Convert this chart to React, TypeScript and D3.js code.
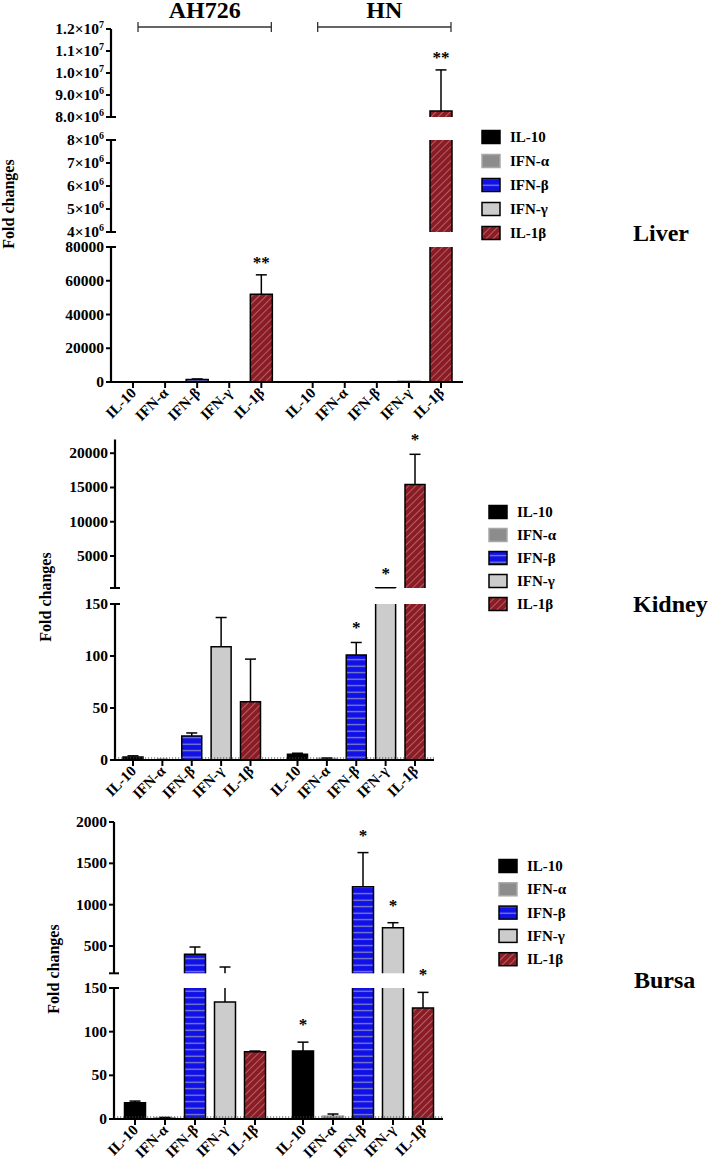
import React from "react";
import * as d3 from "d3";

// ---------- data ----------
const cytokines = ["IL-10", "IFN-α", "IFN-β", "IFN-γ", "IL-1β"];
const strains = ["AH726", "HN"];

const liverAH726 = [2, 1, 1500, 5, 52000];
const liverAH726Err = [0, 0, 300, 0, 11500];
const liverHN = [3, 2, 20, 300, 8270000];
const liverHNErr = [0, 0, 0, 0, 1870000];
const liverAH726Sig = ["", "", "", "", "**"];
const liverHNSig = ["", "", "", "", "**"];

const kidneyAH726 = [2.8, 0.3, 23, 109, 56];
const kidneyAH726Err = [1.2, 0.2, 3, 28, 41];
const kidneyHN = [5.5, 1.5, 101, 355, 15440];
const kidneyHNErr = [1, 0.4, 12, 0, 4400];
const kidneyAH726Sig = ["", "", "", "", ""];
const kidneyHNSig = ["", "", "*", "*", "*"];

const bursaAH726 = [18.5, 1.5, 400, 134, 77];
const bursaAH726Err = [2, 0.3, 88, 112, 0.8];
const bursaHN = [78, 3.4, 1218, 722, 127];
const bursaHNErr = [10, 2.3, 412, 60, 18];
const bursaAH726Sig = ["", "", "", "", ""];
const bursaHNSig = ["*", "", "*", "*", "*"];

const liverLowTicks = [0, 20000, 40000, 60000, 80000];
const liverMidTicks = [4e6, 5e6, 6e6, 7e6, 8e6];
const liverTopTicks = [8e6, 9e6, 1e7, 1.1e7, 1.2e7];
const kidneyLowTicks = [0, 50, 100, 150];
const kidneyTopTicks = [5000, 10000, 15000, 20000];
const bursaLowTicks = [0, 50, 100, 150];
const bursaTopTicks = [500, 1000, 1500, 2000];

const yLabel = "Fold changes";

// ---------- styles ----------
const FONT = "'Liberation Serif', 'Times New Roman', 'DejaVu Serif', serif";
const fills = ["#000000", "#8c8c8c", "url(#blueStripe)", "#cccccc", "url(#redHatch)"];
const strokes = ["#000000", "#a8a8a8", "#000000", "#000000", "#000000"];

type Fmt = (v: number) => React.ReactNode;
const plain: Fmt = (v) => String(v);
const sci = (digits: number): Fmt => (v) => {
  const e = Math.floor(Math.log10(v) + 1e-9);
  const m = v / Math.pow(10, e);
  return (
    <>
      <tspan>{m.toFixed(digits)}×10</tspan>
      <tspan dy={-6} fontSize={10}>{e}</tspan>
    </>
  );
};

type SegDef = { domain: [number, number]; range: [number, number]; ticks: number[]; fmt: Fmt };

type PanelDef = {
  title: string;
  ah: number[]; ahErr: number[]; hn: number[]; hnErr: number[];
  ahSig: string[]; hnSig: string[];
  segs: SegDef[];
  axisX: number; xEnd: number; xFirst: number; xLast: number; barW: number;
  legendX: number; legendY: number; legendStep: number;
  titleX: number; titleY: number;
  ylabX: number; ylabY: number;
  dotted: boolean; brackets: boolean; starGap: number;
};

const panels: PanelDef[] = [
  {
    title: "Liver",
    ah: liverAH726, ahErr: liverAH726Err, hn: liverHN, hnErr: liverHNErr,
    ahSig: liverAH726Sig, hnSig: liverHNSig,
    segs: [
      { domain: [0, 80000], range: [382, 247], ticks: liverLowTicks, fmt: plain },
      { domain: [4e6, 8e6], range: [232, 140], ticks: liverMidTicks, fmt: sci(0) },
      { domain: [8e6, 1.2e7], range: [117, 29], ticks: liverTopTicks, fmt: sci(1) },
    ],
    axisX: 111, xEnd: 463, xFirst: 133, xLast: 441, barW: 22,
    legendX: 482, legendY: 137, legendStep: 24,
    titleX: 633, titleY: 241, ylabX: 14, ylabY: 204,
    dotted: false, brackets: true, starGap: 15,
  },
  {
    title: "Kidney",
    ah: kidneyAH726, ahErr: kidneyAH726Err, hn: kidneyHN, hnErr: kidneyHNErr,
    ahSig: kidneyAH726Sig, hnSig: kidneyHNSig,
    segs: [
      { domain: [0, 150], range: [760, 604], ticks: kidneyLowTicks, fmt: plain },
      { domain: [335, 22000], range: [588, 439.5], ticks: kidneyTopTicks, fmt: plain },
    ],
    axisX: 115, xEnd: 434, xFirst: 133, xLast: 415, barW: 20,
    legendX: 489, legendY: 512, legendStep: 23,
    titleX: 633, titleY: 612, ylabX: 51, ylabY: 597,
    dotted: true, brackets: false, starGap: 17,
  },
  {
    title: "Bursa",
    ah: bursaAH726, ahErr: bursaAH726Err, hn: bursaHN, hnErr: bursaHNErr,
    ahSig: bursaAH726Sig, hnSig: bursaHNSig,
    segs: [
      { domain: [0, 150], range: [1119, 988], ticks: bursaLowTicks, fmt: plain },
      { domain: [170, 2000], range: [973.3, 822], ticks: bursaTopTicks, fmt: plain },
    ],
    axisX: 114, xEnd: 443, xFirst: 135, xLast: 423, barW: 21,
    legendX: 499, legendY: 866, legendStep: 23.3,
    titleX: 634, titleY: 988, ylabX: 59, ylabY: 969,
    dotted: true, brackets: false, starGap: 20,
  },
];

const GROUP_SHIFT = 5.6;

function Panel({ p }: { p: PanelDef }) {
  const segs = p.segs.map((s, i) => ({
    ...s,
    base: i === 0,
    top: i === p.segs.length - 1,
    y: d3.scaleLinear().domain(s.domain).range(s.range),
  }));
  const x = d3.scaleLinear().domain([0, 4 + GROUP_SHIFT]).range([p.xFirst, p.xLast]);
  const y0 = segs[0].y(0);

  const bars: React.ReactNode[] = [];
  const errs: React.ReactNode[] = [];
  const stars: React.ReactNode[] = [];
  const groups = [
    { v: p.ah, e: p.ahErr, s: p.ahSig },
    { v: p.hn, e: p.hnErr, s: p.hnSig },
  ];
  groups.forEach((g, gi) => {
    g.v.forEach((v, ci) => {
      const cx = x(ci + gi * GROUP_SHIFT);
      const err = g.e[ci];
      const hiV = v + err;
      let capY = NaN;
      segs.forEach((s, si) => {
        const [lo, hi] = s.domain;
        const bLo = s.base ? 0 : lo;
        if (v > bLo) {
          const closedTop = v <= hi;
          const t = Math.min(v, hi);
          const yt = s.y(t);
          const yb = s.y(bLo);
          const l = cx - p.barW / 2;
          const r = cx + p.barW / 2;
          const d = closedTop
            ? `M${l},${yb}L${l},${yt}L${r},${yt}L${r},${yb}`
            : `M${l},${yb}L${l},${yt}M${r},${yt}L${r},${yb}`;
          bars.push(
            <g key={`b${gi}-${ci}-${si}`}>
              <rect x={l} y={yt} width={p.barW} height={Math.max(0, yb - yt)} fill={fills[ci]} />
              <path d={d} fill="none" stroke={strokes[ci]} strokeWidth={1.5} />
            </g>
          );
        }
        if (err > 0) {
          const a = Math.max(v, bLo);
          const b = Math.min(hiV, hi);
          if (b > a) {
            errs.push(<line key={`e${gi}-${ci}-${si}`} x1={cx} x2={cx} y1={s.y(a)} y2={s.y(b)} stroke="#000" strokeWidth={1.5} />);
          }
          if (hiV >= lo && hiV <= hi) {
            capY = s.y(hiV);
            errs.push(<line key={`c${gi}-${ci}-${si}`} x1={cx - 5.5} x2={cx + 5.5} y1={capY} y2={capY} stroke="#000" strokeWidth={1.5} />);
          }
        } else if (v >= lo && v <= hi) {
          capY = s.y(v);
        }
      });
      if (g.s[ci]) {
        stars.push(
          <text key={`s${gi}-${ci}`} x={cx} y={capY - p.starGap + 8} textAnchor="middle"
            fontSize={17} fontWeight="bold" fontFamily={FONT}>{g.s[ci]}</text>
        );
      }
    });
  });

  return (
    <g>
      {/* y axis segments */}
      {segs.map((s, si) => (
        <g key={`ax${si}`}>
          <line x1={p.axisX} x2={p.axisX} y1={s.range[0] + (s.base ? 1 : 0)} y2={s.range[1]} stroke="#000" strokeWidth={2.2} />
          {!s.top && <line x1={p.axisX - 5} x2={p.axisX + 5} y1={s.range[1]} y2={s.range[1]} stroke="#000" strokeWidth={2} />}
          {!s.base && <line x1={p.axisX - 5} x2={p.axisX + 5} y1={s.range[0]} y2={s.range[0]} stroke="#000" strokeWidth={2} />}
          {s.ticks.map((t) => (
            <g key={t}>
              <line x1={p.axisX - 5} x2={p.axisX} y1={s.y(t)} y2={s.y(t)} stroke="#000" strokeWidth={2} />
              <text x={p.axisX - 7} y={s.y(t) + 5} textAnchor="end" fontSize={15.5} fontWeight="bold" fontFamily={FONT}>
                {s.fmt(t)}
              </text>
            </g>
          ))}
        </g>
      ))}
      {/* bars */}
      {bars}
      {errs}
      {stars}
      {/* dotted zero line */}
      {p.dotted && (
        <line x1={p.axisX} x2={p.xEnd} y1={y0 - 2} y2={y0 - 2} stroke="#444" strokeWidth={1} strokeDasharray="1.2,1.8" />
      )}
      {/* x axis */}
      <line x1={p.axisX - 1} x2={p.xEnd} y1={y0} y2={y0} stroke="#000" strokeWidth={2.2} />
      {strains.map((_, gi) =>
        cytokines.map((c, ci) => {
          const cx = x(ci + gi * GROUP_SHIFT);
          return (
            <g key={`xt${gi}-${ci}`}>
              <line x1={cx} x2={cx} y1={y0} y2={y0 + 6} stroke="#000" strokeWidth={2} />
              <text transform={`translate(${cx + 4},${y0 + 12}) rotate(-45)`} textAnchor="end"
                fontSize={15} fontWeight="bold" fontFamily={FONT}>{c}</text>
            </g>
          );
        })
      )}
      {/* group brackets */}
      {p.brackets && strains.map((st, gi) => {
        const a = x(gi * GROUP_SHIFT) + 5;
        const b = x(4 + gi * GROUP_SHIFT) + 10;
        return (
          <g key={st}>
            <line x1={a} x2={b} y1={27} y2={27} stroke="#333" strokeWidth={1.3} />
            <line x1={a} x2={a} y1={22} y2={32} stroke="#333" strokeWidth={1.3} />
            <line x1={b} x2={b} y1={22} y2={32} stroke="#333" strokeWidth={1.3} />
            <text x={(a + b) / 2} y={18} textAnchor="middle" fontSize={24} fontWeight="bold" fontFamily={FONT}>{st}</text>
          </g>
        );
      })}
      {/* y label */}
      <text transform={`translate(${p.ylabX},${p.ylabY}) rotate(-90)`} textAnchor="middle"
        fontSize={16} fontWeight="bold" fontFamily={FONT}>{yLabel}</text>
      {/* legend */}
      {cytokines.map((c, ci) => {
        const ly = p.legendY + ci * p.legendStep;
        return (
          <g key={`lg${ci}`}>
            <rect x={p.legendX} y={ly - 6.5} width={18} height={13} fill={fills[ci]} stroke={strokes[ci]} strokeWidth={1.5} />
            <text x={p.legendX + 28} y={ly + 5} fontSize={15} fontWeight="bold" fontFamily={FONT}>{c}</text>
          </g>
        );
      })}
      {/* title */}
      <text x={p.titleX} y={p.titleY} fontSize={24} fontWeight="bold" fontFamily={FONT}>{p.title}</text>
    </g>
  );
}

export default function App() {
  return (
    <svg width={709} height={1167} style={{ position: "absolute", left: 0, top: 0, background: "#fff" }}>
      <defs>
        <pattern id="blueStripe" patternUnits="userSpaceOnUse" width={10} height={6.5}>
          <rect width={10} height={6.5} fill="#1010e8" />
          <line x1={0} x2={10} y1={3.2} y2={3.2} stroke="#8a8ac6" strokeWidth={1.2} />
        </pattern>
        <pattern id="redHatch" patternUnits="userSpaceOnUse" width={5} height={10} patternTransform="rotate(45)">
          <rect width={5} height={10} fill="#8b1c24" />
          <line x1={2.5} x2={2.5} y1={0} y2={10} stroke="#b0606a" strokeWidth={1} />
        </pattern>
      </defs>
      <rect width={709} height={1167} fill="#fff" />
      {panels.map((p) => (
        <Panel key={p.title} p={p} />
      ))}
    </svg>
  );
}
